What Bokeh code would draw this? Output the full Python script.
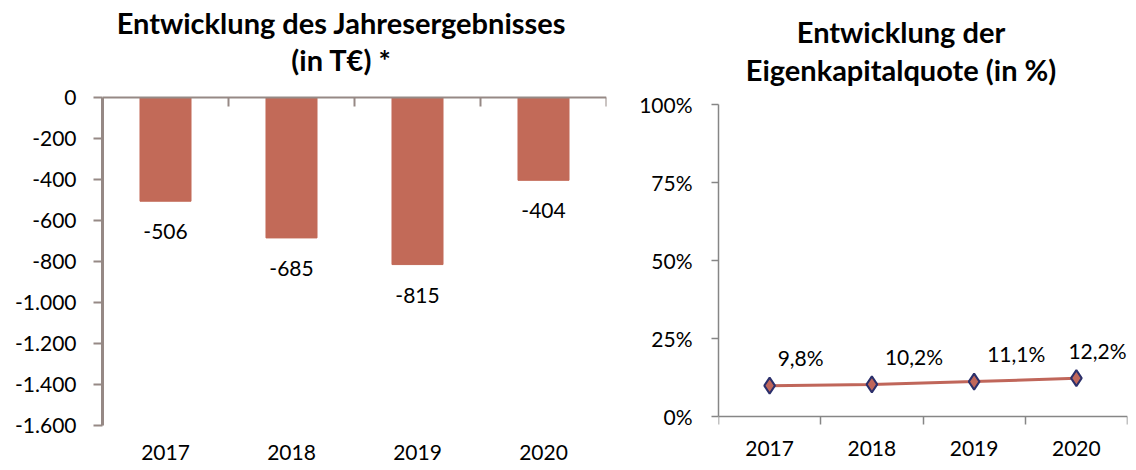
from bokeh.plotting import figure
from bokeh.models import (FactorRange, Range1d, LinearAxis, CategoricalAxis,
                          FixedTicker, Label)
from bokeh.layouts import row
from bokeh.embed import file_html
from bokeh.resources import INLINE
from bokeh.core.properties import value

# ---------------- data ----------------
years = ["2017", "2018", "2019", "2020"]
result_values = [-506, -685, -815, -404]          # T€
result_labels = ["-506", "-685", "-815", "-404"]
equity_ratio = [9.8, 10.2, 11.1, 12.2]            # %
equity_labels = ["9,8%", "10,2%", "11,1%", "12,2%"]
left_ticks = [-1600, -1400, -1200, -1000, -800, -600, -400, -200, 0]
left_tick_labels = ["-1.600", "-1.400", "-1.200", "-1.000", "-800", "-600", "-400", "-200", "0"]
right_ticks = [0, 25, 50, 75, 100]
right_tick_labels = ["0%", "25%", "50%", "75%", "100%"]
# category boundaries in the factor range's synthetic coordinates
category_bounds = [0, 1, 2, 3, 4]
left_title = ["Entwicklung des Jahresergebnisses", "(in T€) *"]
right_title = ["Entwicklung der", "Eigenkapitalquote (in %)"]

# ---------------- styles / layout (pixels) ----------------
FONT = "Lato"
FS = "21px"
TFS = "29px"
BAR_COLOR = "#C26A58"
AXIS_L = "#968985"
AXIS_R = "#868686"
label_dx = [8, 13, 13, -8]
H = 470
FRAME_BOTTOM = 425          # both frames span from the top of the canvas to here


def y_range_for(v_top, px_top, v_bot, px_bot):
    """Range whose values v_top/v_bot land at pixel rows px_top/px_bot of a frame 0..FRAME_BOTTOM."""
    per_px = (v_top - v_bot) / (px_bot - px_top)
    return Range1d(v_bot - (FRAME_BOTTOM - px_bot) * per_px, v_top + px_top * per_px), per_px


def add_title(p, lines, x, v_top, px_top, per_px, baselines):
    for txt, b in zip(lines, baselines):
        p.add_layout(Label(x=x, y=v_top + (px_top - b) * per_px, text=txt,
                           text_align="center", text_baseline="alphabetic",
                           text_font=FONT, text_font_size=TFS,
                           text_font_style="bold", text_color="black"))


def base_fig(x_range, y_range, width, border_left, border_right):
    p = figure(x_range=x_range, y_range=y_range, width=width, height=H,
               output_backend="svg", toolbar_location=None,
               x_axis_location=None, y_axis_location=None,
               min_border_left=border_left, min_border_right=border_right,
               min_border_top=0, min_border_bottom=H - FRAME_BOTTOM)
    p.outline_line_color = None
    p.xgrid.visible = False
    p.ygrid.visible = False
    p.background_fill_color = None
    p.border_fill_color = None
    return p


# ---------------- left chart ----------------
yr1, per1 = y_range_for(0, 97, -1600, 425)
p1 = base_fig(FactorRange(*years), yr1, 620, 102, 14)

p1.vbar(x=years, top=result_values, bottom=0, width=0.405, color=BAR_COLOR)
p1.text(x=years, y=result_values, text=result_labels, text_align="center",
        text_baseline="top", y_offset=23, text_font=value(FONT),
        text_font_size=FS, text_color="black")

yax1 = LinearAxis(ticker=FixedTicker(ticks=left_ticks), bounds=(-1600, 0),
                  major_label_overrides=dict(zip(left_ticks, left_tick_labels)),
                  axis_line_color=AXIS_L, axis_line_width=3,
                  major_tick_line_color=AXIS_L, major_tick_line_width=2,
                  major_tick_out=9, major_tick_in=0,
                  minor_tick_line_color=None, major_label_standoff=17,
                  major_label_text_font=FONT, major_label_text_font_size=FS,
                  major_label_text_color="black")
p1.add_layout(yax1, "left")

# category axis line at value 0 with boundary ticks pointing down
zero_ax = LinearAxis(ticker=FixedTicker(ticks=[], minor_ticks=category_bounds),
                     fixed_location=0,
                     axis_line_color=AXIS_L, axis_line_width=2,
                     major_tick_line_color=None, major_tick_out=0, major_tick_in=0,
                     minor_tick_line_color=AXIS_L, minor_tick_line_width=2,
                     minor_tick_out=9, minor_tick_in=0, major_label_standoff=0)
p1.add_layout(zero_ax, "below")

bx1 = CategoricalAxis(axis_line_color=None, major_tick_line_color=None,
                      major_tick_out=0, major_tick_in=0,
                      major_label_standoff=19, major_label_text_font=FONT,
                      major_label_text_font_size=FS, major_label_text_color="black")
p1.add_layout(bx1, "below")

add_title(p1, left_title, (341 - 102) / 126, 0, 97, per1, [22, 59])

# ---------------- right chart ----------------
yr2, per2 = y_range_for(100, 104, 0, 415.7)
p2 = base_fig(FactorRange(*years), yr2, 508, 98, 1)

p2.line(x=years, y=equity_ratio, line_color="#C0665A", line_width=3)
p2.scatter(x=years, y=equity_ratio, marker="diamond", size=16,
           fill_color="#C0665A", line_color="#2B2F6B", line_width=2)
p2.text(x=years, y=equity_ratio, text=equity_labels, text_align="left",
        text_baseline="middle", x_offset=label_dx, y_offset=-28,
        text_font=value(FONT), text_font_size=FS, text_color="black")

yax2 = LinearAxis(ticker=FixedTicker(ticks=right_ticks), bounds=(0, 100),
                  major_label_overrides=dict(zip(right_ticks, right_tick_labels)),
                  axis_line_color=AXIS_R, axis_line_width=1.5,
                  major_tick_line_color=AXIS_R, major_tick_line_width=1.5,
                  major_tick_out=7, major_tick_in=0,
                  minor_tick_line_color=None, major_label_standoff=19,
                  major_label_text_font=FONT, major_label_text_font_size=FS,
                  major_label_text_color="black")
p2.add_layout(yax2, "left")

tick_ax = LinearAxis(ticker=FixedTicker(ticks=[], minor_ticks=category_bounds),
                     fixed_location=0,
                     axis_line_color=AXIS_R, axis_line_width=1.5,
                     major_tick_line_color=None, major_tick_out=0, major_tick_in=0,
                     minor_tick_line_color=AXIS_R, minor_tick_line_width=1.5,
                     minor_tick_out=8, minor_tick_in=0, major_label_standoff=0)
p2.add_layout(tick_ax, "below")
bx2 = CategoricalAxis(axis_line_color=None, major_tick_line_color=None,
                      major_tick_out=0, major_tick_in=0,
                      major_label_standoff=15, major_label_text_font=FONT,
                      major_label_text_font_size=FS, major_label_text_color="black")
p2.add_layout(bx2, "below")

add_title(p2, right_title, (900.5 - 718) / 102.25, 100, 104, per2, [31, 69])

layout = row(p1, p2)
open("out.html", "w").write(file_html(layout, INLINE))
